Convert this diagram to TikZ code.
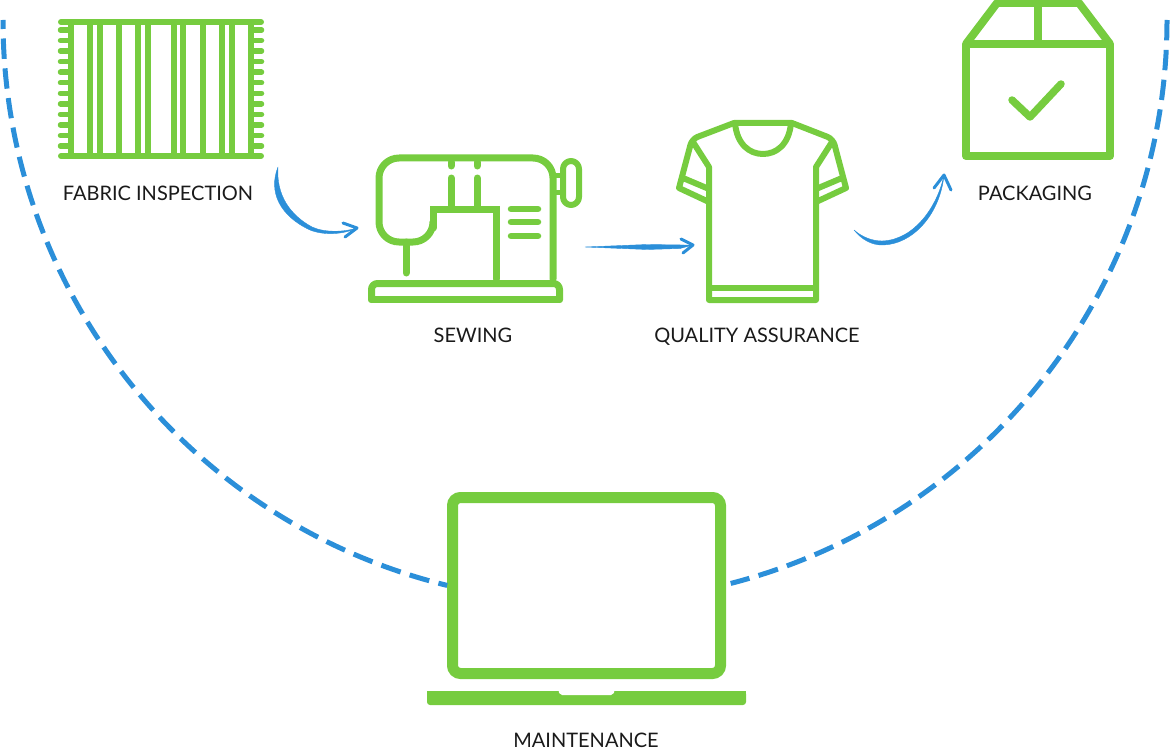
\documentclass[tikz,border=0pt]{standalone}
\usepackage{fontspec}
\setmainfont{Lato}
\definecolor{icongreen}{HTML}{76CC3F}
\definecolor{flowblue}{HTML}{2B8FD9}
\definecolor{labelblack}{HTML}{1A1A1A}
\tikzset{
  icon/.style = {draw = icongreen, line width = 6pt, line join = round, line cap = round},
  steplabel/.style = {font = \fontsize{20}{24}\selectfont, text = labelblack, inner sep = 0pt, anchor = base},
  dashline/.style = {draw = flowblue, line width = 5pt, dash pattern = on 20.4pt off 9.5pt},
  sweep/.style = {fill = flowblue, draw = flowblue, line width = 0.4pt},
  flowtip/.style = {draw = flowblue, line width = 3pt, line join = round, line cap = round}
}
\begin{document}
\begin{tikzpicture}[x = 1pt, y = -1pt]
\useasboundingbox (0,0) rectangle (1170,749);

\node[steplabel] (fabriclabel) at (158,200) {FABRIC INSPECTION};
\node[steplabel] (sewinglabel) at (473,342) {SEWING};
\node[steplabel] (qualitylabel) at (757,342) {QUALITY ASSURANCE};
\node[steplabel] (packaginglabel) at (1035,200) {PACKAGING};
\node[steplabel] (maintenancelabel) at (586,747.5) {MAINTENANCE};

% fabric
\draw[icon] (61,22) -- (261,22);
\draw[icon] (61,156) -- (261,156);
\foreach \x in {71,90,100,119,138,148,174,183,203,222,232,251}
  \draw[icon, line width = 6pt, line cap = butt] (\x,22) -- (\x,156);
\foreach \i in {0,...,11} {
  \draw[icon, line width = 5.5pt] (60.5,30+10.55*\i) -- (71,30+10.55*\i);
  \draw[icon, line width = 5.5pt] (251,30+10.55*\i) -- (261.5,30+10.55*\i);
}

% sewing machine
\draw[icon, line width = 7pt, rounded corners = 20pt] (553,279) -- (553,158) -- (379,158) -- (379,242) -- (433,242) -- (433,225);
\draw[icon, line width = 7pt, line join = miter] (433,228) -- (433,209) -- (496,209) -- (496,279);
\draw[icon, line width = 7pt] (406,242) -- (406,273);
\draw[icon, line width = 7pt] (451,162) -- (451,166);
\draw[icon, line width = 7pt] (477,162) -- (477,166);
\draw[icon, line width = 7pt] (451,178) -- (451,209);
\draw[icon, line width = 7pt] (477,178) -- (477,209);
\foreach \y in {209,222,236}
  \draw[icon, line width = 6.5pt] (511,\y) -- (538,\y);
\draw[icon, line width = 5pt, line cap = butt] (553,175) -- (563,175);
\draw[icon, line width = 5pt, line cap = butt] (553,192) -- (563,192);
\draw[icon, rounded corners = 8pt] (563,161) rectangle (579,205);
\draw[icon, line width = 7pt, rounded corners = 6pt] (371.5,299.5) -- (371.5,283.5) -- (559.5,283.5) -- (559.5,299.5);
\draw[icon, line width = 7pt] (371.5,299.5) -- (559.5,299.5);

% shirt
\draw[icon] (734,123) -- (792,123) [rounded corners = 6pt] -- (833,139) [sharp corners] -- (846,188) -- (816,202) -- (816,300) -- (709,300) -- (709,202) -- (679,188) [rounded corners = 6pt] -- (692,139) [sharp corners] -- cycle;
\draw[icon] (693,142) -- (709,167) -- (709,202);
\draw[icon] (832,142) -- (816,167) -- (816,202);
\draw[icon, line cap = butt] (683,178) -- (709,189);
\draw[icon, line cap = butt] (842,178) -- (816,189);
\draw[icon, line cap = butt] (709,288) -- (816,288);
\draw[icon] (735,123) .. controls (737,145) and (750,154) .. (763,154) .. controls (776,154) and (789,145) .. (791,123);

% box
\draw[icon, line width = 8pt, line cap = butt] (966,44) rectangle (1110,156);
\draw[icon, line width = 8pt, line cap = butt] (966,44) -- (997,3) -- (1079,3) -- (1110,44);
\draw[icon, line width = 8pt, line cap = butt] (1038,3) -- (1038,44);
\draw[icon, line width = 7.5pt] (1012,100) -- (1030,117) -- (1061,84);

% laptop
\node[draw = icongreen, line width = 11pt, rounded corners = 8pt, minimum width = 268pt, minimum height = 176pt, inner sep = 0pt, outer sep = 0pt] (screen) at (586.5,585.5) {};
\fill[icongreen, rounded corners = 3pt] (427,691) -- (427,705) -- (746,705) -- (746,691) [sharp corners] -- cycle;
\fill[icongreen] (427,691) rectangle (746,698);
\fill[white, rounded corners = 2pt] (558,690) -- (560,695) -- (613,695) -- (615,690) -- cycle;

% dashed arcs
\coordinate (arcleft) at (3,20);
\coordinate (arcright) at (1167,20);
\draw[dashline, dash phase = 11.4pt] (arcleft) arc[start angle = 180, end angle = 103.7, radius = 582];
\draw[dashline] (arcright) arc[start angle = 0, end angle = 75.5, radius = 582];

% arrows
\coordinate (sweepa) at (278,167);
\coordinate (tipa) at (357,228);
\fill[sweep] (sweepa) .. controls (268,192) and (280,216) .. (310,230) .. controls (325,236) and (345,234) .. (tipa) .. controls (345,232) and (325,233) .. (312,227) .. controls (290,215) and (276,195) .. (sweepa);
\draw[flowtip] ([shift = {(-14,-5)}]tipa) -- (tipa) -- ([shift = {(-12,9)}]tipa);

\coordinate (sweepb) at (585,247);
\coordinate (tipb) at (693,245);
\fill[sweep] (sweepb) -- (647,244.5) -- (684,245) -- (tipb) -- (680,248.5) -- (647,249.5) -- cycle;
\draw[flowtip] ([shift = {(-12,-6)}]tipb) -- (tipb) -- ([shift = {(-10,8)}]tipb);

\coordinate (sweepc) at (854,230);
\coordinate (tipc) at (944,175);
\fill[sweep] (sweepc) .. controls (862,240) and (872,245) .. (882,245) .. controls (912,245) and (940,215) .. (tipc) .. controls (938,205) and (915,240) .. (882,241) .. controls (872,241) and (862,237) .. (sweepc);
\draw[flowtip] ([shift = {(-10,13)}]tipc) -- (tipc) -- ([shift = {(7,15)}]tipc);
\end{tikzpicture}
\end{document}
